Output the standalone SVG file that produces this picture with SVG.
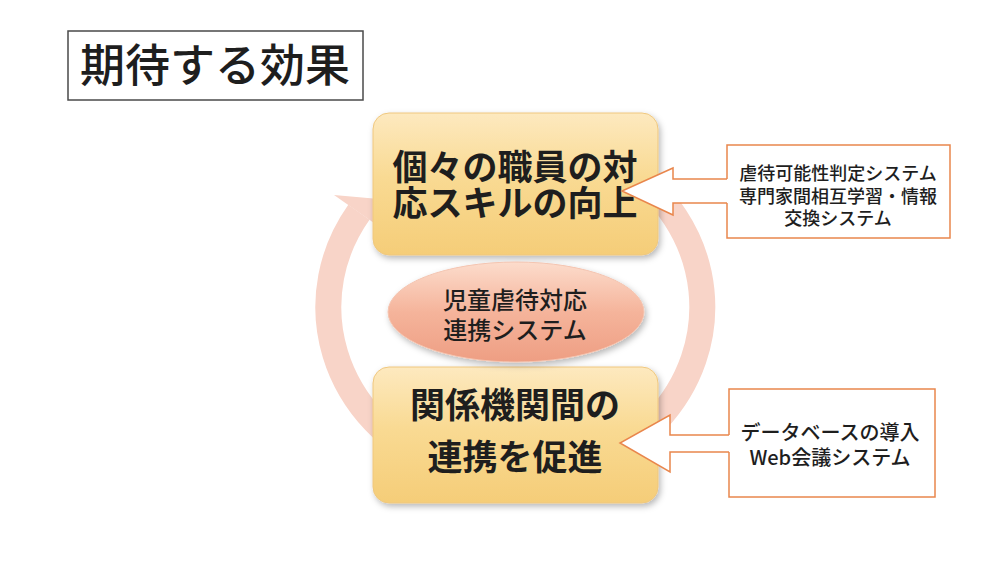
<svg xmlns="http://www.w3.org/2000/svg" width="1000" height="563" viewBox="0 0 1000 563">
  <style>
    text { font-family: "Noto Sans CJK JP", "Noto Sans", sans-serif; fill: #1e1e1e; text-anchor: middle; }
    .title { font-size: 45px; font-weight: 500; }
    .main { font-size: 35px; font-weight: 700; }
    .core { font-size: 24px; font-weight: 500; }
    .note { font-size: 18px; font-weight: 500; }
    .note2 { font-size: 20px; font-weight: 500; }
    .card { fill: url(#cardGrad); stroke: #efc77e; stroke-width: 1; filter: url(#shadow); }
    .callout { fill: #ffffff; stroke: #e9864c; stroke-width: 1.5; }
    .calloutFill { fill: #ffffff; stroke: none; }
    .calloutLine { fill: none; stroke: #e9864c; stroke-width: 1.5; stroke-linejoin: miter; }
  </style>
  <defs>
    <linearGradient id="cardGrad" x1="0" y1="0" x2="0" y2="1">
      <stop offset="0" stop-color="#fde9bf"/>
      <stop offset="0.45" stop-color="#f9da93"/>
      <stop offset="1" stop-color="#f5cd78"/>
    </linearGradient>
    <linearGradient id="coreGrad" x1="0" y1="0" x2="0" y2="1">
      <stop offset="0" stop-color="#fcdccc"/>
      <stop offset="0.5" stop-color="#f5b49b"/>
      <stop offset="1" stop-color="#ee9e83"/>
    </linearGradient>
    <filter id="shadow" x="-10%" y="-10%" width="125%" height="130%">
      <feDropShadow dx="2" dy="3" stdDeviation="3" flood-color="#000000" flood-opacity="0.28"/>
    </filter>
  </defs>

  <g id="title">
    <rect x="68" y="31" width="295" height="69" fill="#ffffff" stroke="#4a4a4a" stroke-width="1.5"/>
    <text class="title" x="215" y="82">期待する効果</text>
  </g>

  <g id="cycle-arrow">
    <path d="M 547.5 136.6 A 187 173 0 1 1 358.9 212.2" fill="none" stroke="#f8d4c8" stroke-width="26"/>
    <polygon points="334,195 379,199 384,230" fill="#f8d4c8"/>
  </g>

  <g id="node-skill">
    <rect class="card" x="373" y="113" width="285" height="142" rx="16"/>
    <text class="main" x="515" y="180">個々の職員の対</text>
    <text class="main" x="515" y="216">応スキルの向上</text>
  </g>

  <g id="node-cooperation">
    <rect class="card" x="373" y="367" width="285" height="136" rx="16"/>
    <text class="main" x="515" y="418">関係機関間の</text>
    <text class="main" x="515" y="470">連携を促進</text>
  </g>

  <g id="node-core">
    <ellipse cx="516" cy="312" rx="128" ry="50" fill="url(#coreGrad)" stroke="#f4c4b0" stroke-width="1" filter="url(#shadow)"/>
    <text class="core" x="515" y="309">児童虐待対応</text>
    <text class="core" x="515" y="339">連携システム</text>
  </g>

  <g id="callout-top">
    <rect class="callout" x="727" y="145" width="223" height="93"/>
    <text class="note" x="838" y="180">虐待可能性判定システム</text>
    <text class="note" x="838" y="203">専門家間相互学習・情報</text>
    <text class="note" x="838" y="225">交換システム</text>
  </g>

  <g id="callout-bottom">
    <rect class="callout" x="729" y="389" width="206" height="108"/>
    <text class="note2" x="830" y="440">データベースの導入</text>
    <text class="note2" x="830" y="465">Web会議システム</text>
  </g>

  <g id="connectors">
    <polygon class="calloutFill" points="622,191 673,168 673,179 729,179 729,203 673,203 673,215"/>
    <polyline class="calloutLine" points="727,179 673,179 673,168 622,191 673,215 673,203 727,203"/>
    <polygon class="calloutFill" points="620,443 670,415 670,435 731,435 731,452 670,452 670,472"/>
    <polyline class="calloutLine" points="729,435 670,435 670,415 620,443 670,472 670,452 729,452"/>
  </g>
</svg>
